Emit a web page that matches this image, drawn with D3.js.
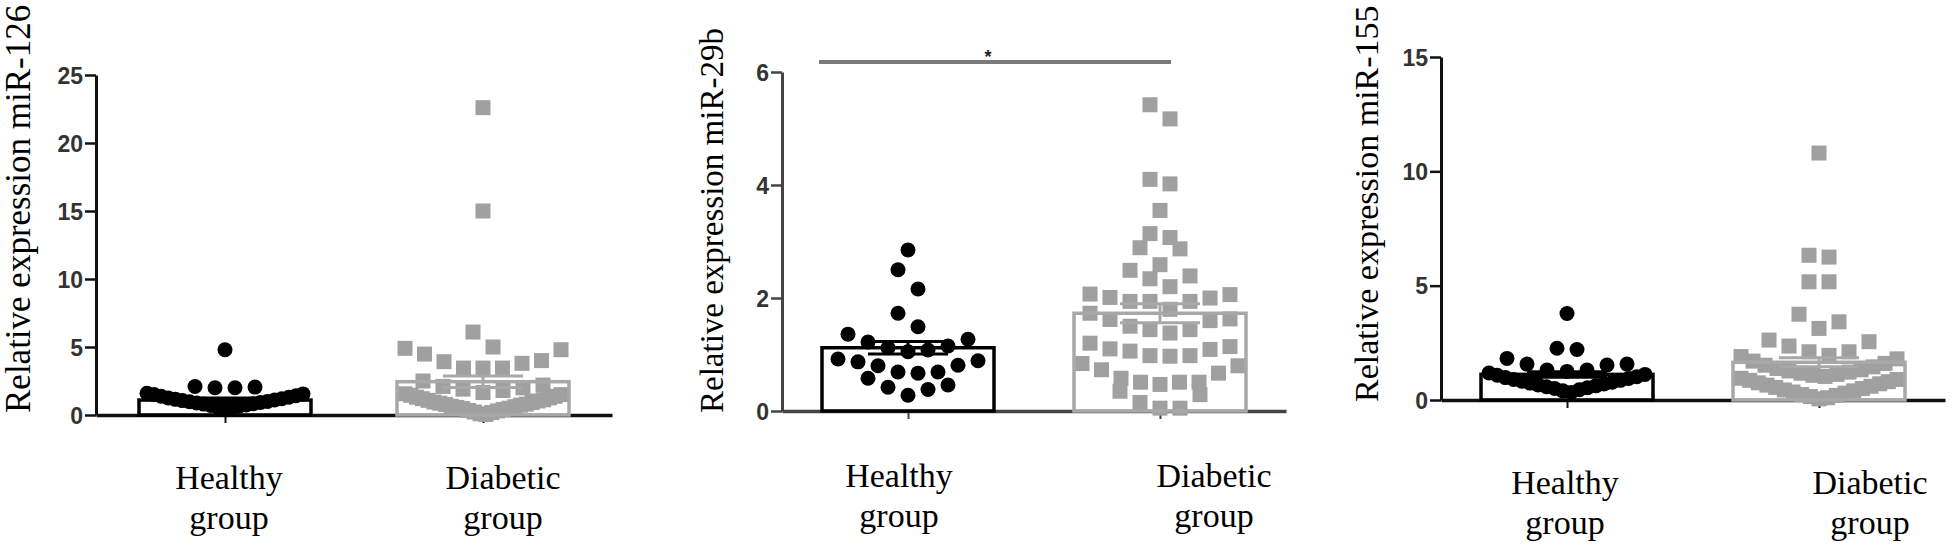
<!DOCTYPE html>
<html><head><meta charset="utf-8">
<script src="https://cdn.jsdelivr.net/npm/d3@7"></script>
<style>body{margin:0;background:#fff}</style>
</head><body>
<svg id="chart" width="1960" height="545"></svg>
<script>
// ---------------- DATA ----------------
const categories = ["Healthy group", "Diabetic group"];
const categoryLines = [["Healthy", "group"], ["Diabetic", "group"]];
const yTitles = ["Relative expression miR-126", "Relative expression miR-29b", "Relative expression miR-155"];

const ticks126 = [0, 5, 10, 15, 20, 25];
const ticks29b = [0, 2, 4, 6];
const ticks155 = [0, 5, 10, 15];

const healthy126 = [4.8, 2.1, 2.05, 2.0, 2.0, 1.6, 1.55, 1.5, 1.42, 1.38, 1.3, 1.25, 1.2, 1.15, 1.1, 1.06, 1.0, 0.97, 0.92, 0.88, 0.83, 0.8, 0.74, 0.7, 0.64, 0.58, 0.52, 0.45];
const diabetic126 = [22.6, 15.0, 6.1, 5.0, 4.9, 4.8, 4.48, 4.0, 3.92, 3.8, 3.45, 3.45, 3.45, 2.5, 2.2, 2.1, 2.0, 1.9, 1.8, 1.65,
  1.56, 1.5, 1.45, 1.38, 1.31, 1.26, 1.2, 1.12, 1.08, 1.03, 0.95, 0.92, 0.87, 0.8, 0.78, 0.72, 0.64, 0.61, 0.56, 0.5, 0.47, 0.41, 0.33, 0.3, 0.22, 0.18, 0.09, 0.04];

const healthy29b = [2.85, 2.50, 2.16, 1.73, 1.49, 1.36, 1.27, 1.22, 1.15, 1.12, 1.08, 1.05, 0.92, 0.89, 0.87, 0.81, 0.80, 0.69, 0.69, 0.67, 0.58, 0.46, 0.42, 0.38, 0.28];
const diabetic29b = [5.42, 5.17, 4.10, 4.02, 3.55, 3.14, 3.07, 2.89, 2.87, 2.59, 2.49, 2.39, 2.34, 2.20, 2.07, 2.06, 2.01, 2.00, 1.94, 1.94, 1.94, 1.80,
  1.73, 1.63, 1.62, 1.60, 1.50, 1.44, 1.44, 1.38, 1.20, 1.14, 1.10, 1.09, 1.06, 0.98, 0.98, 0.97, 0.84, 0.80, 0.73, 0.67, 0.58, 0.51, 0.51, 0.51, 0.47, 0.35, 0.29, 0.15, 0.05, 0.05];

const healthy155 = [3.78, 2.26, 2.21, 1.82, 1.57, 1.57, 1.53, 1.31, 1.31, 1.25, 1.18, 1.12, 1.08, 1.02, 0.98, 0.94, 0.9, 0.86, 0.82, 0.78, 0.74, 0.7, 0.66, 0.62, 0.58, 0.54, 0.5, 0.45, 0.4, 0.33];
const diabetic155 = [10.8, 6.33, 6.25, 5.17, 5.17, 3.75, 3.42, 3.13, 2.62, 2.55, 2.36, 2.11, 2.11, 1.95,
  1.9, 1.8, 1.7, 1.6, 1.52, 1.45, 1.38, 1.32, 1.27, 1.22, 1.17, 1.12, 1.08, 1.03,
  0.95, 0.9, 0.86, 0.8, 0.75, 0.71, 0.65, 0.6, 0.55, 0.5, 0.44, 0.4, 0.35, 0.3, 0.24, 0.2, 0.15, 0.1, 0.05];

const mean126 = [1.1, 2.45], sem126 = [0.15, 0.42];
const mean29b = [1.12, 1.73], sem29b = [0.11, 0.17];
const mean155 = [1.12, 1.65], sem155 = [0.12, 0.2];
const sigLabel29b = "*";

// ---------------- LAYOUT ----------------
const panels = [
  {title: yTitles[0], ticks: ticks126, series: [healthy126, diabetic126], means: mean126, sems: sem126,
   axisX: 96, xEnd: 612, y0: 415, yTop: 75, titleX: 30, titleY: 413, titleSize: 35, labelDx: [4, 20], labelY: 489, axisColor: "#111"},
  {title: yTitles[1], ticks: ticks29b, series: [healthy29b, diabetic29b], means: mean29b, sems: sem29b,
   axisX: 782, xEnd: 1286, y0: 411, yTop: 72, titleX: 723, titleY: 413, titleSize: 33, labelDx: [-9, 54], labelY: 487, axisColor: "#444",
   sig: {label: sigLabel29b, y: 62, dl: -89, dr: 11}},
  {title: yTitles[2], ticks: ticks155, series: [healthy155, diabetic155], means: mean155, sems: sem155,
   axisX: 1441, xEnd: 1945, y0: 400, yTop: 57, titleX: 1378, titleY: 402, titleSize: 34, labelDx: [-2, 51], labelY: 494, axisColor: "#111"}
];
const colors = ["#000000", "#a0a0a0"];
const barStroke = ["#000000", "#a8a8a8"];
const barHalf = 86, markerR = 7.5, rowPx = 21, spacing = 20, maxHalf = 78, capHalf = 40;

const svg = d3.select("#chart");

function swarm(values, y) {
  const s = values.slice().sort((a, b) => a - b);
  const rows = []; let k = 0;
  while (k < s.length) {
    const start = s[k]; const row = [];
    while (k < s.length && (y(start) - y(s[k])) < rowPx) { row.push(s[k]); k++; }
    rows.push(row);
  }
  const out = [];
  rows.forEach(row => {
    const n = row.length;
    const sp = n > 1 ? Math.min(spacing, 2 * maxHalf / (n - 1)) : 0;
    row.forEach((v, j) => {
      let off;
      if (n % 2 === 1) off = j === 0 ? 0 : (j % 2 === 1 ? 1 : -1) * Math.ceil(j / 2) * sp;
      else off = (j % 2 === 0 ? 1 : -1) * (Math.floor(j / 2) + 0.5) * sp;
      out.push({v, dx: off});
    });
  });
  return out;
}

panels.forEach(p => {
  const g = svg.append("g");
  const x = d3.scalePoint().domain(categories).range([p.axisX, p.xEnd]).padding(0.5);
  const y = d3.scaleLinear().domain([0, d3.max(p.ticks)]).range([p.y0, p.yTop]);

  // bar fills
  g.selectAll("rect.fill").data(categories).join("rect")
    .attr("x", d => x(d) - barHalf).attr("width", barHalf * 2)
    .attr("y", (d, i) => y(p.means[i])).attr("height", (d, i) => y(0) - y(p.means[i]))
    .attr("fill", "#fff");

  // axes
  const ya = g.append("g").attr("transform", `translate(${p.axisX},0)`)
    .call(d3.axisLeft(y).tickValues(p.ticks).tickSize(11).tickSizeOuter(0).tickPadding(2).tickFormat(d3.format("d")));
  ya.select(".domain").attr("stroke", p.axisColor).attr("stroke-width", 3);
  ya.selectAll(".tick line").attr("stroke", p.axisColor).attr("stroke-width", 2.5);
  ya.selectAll(".tick text").attr("font-family", "Liberation Sans, Arial, sans-serif").attr("font-weight", "bold")
    .attr("font-size", 23).attr("fill", "#333").attr("dy", "0.36em");

  const xa = g.append("g").attr("transform", `translate(0,${p.y0})`)
    .call(d3.axisBottom(x).tickSize(8).tickSizeOuter(0).tickFormat(""));
  xa.select(".domain").attr("stroke", p.axisColor).attr("stroke-width", 3.5);
  xa.selectAll(".tick line").attr("stroke", p.axisColor).attr("stroke-width", 2);

  // points
  p.series.forEach((vals, si) => {
    const pts = swarm(vals, y);
    if (si === 0) {
      g.selectAll(null).data(pts).join("circle")
        .attr("cx", d => x(categories[si]) + d.dx).attr("cy", d => y(d.v))
        .attr("r", markerR).attr("fill", colors[si]);
    } else {
      g.selectAll(null).data(pts).join("rect")
        .attr("x", d => x(categories[si]) + d.dx - markerR).attr("y", d => y(d.v) - markerR)
        .attr("width", markerR * 2).attr("height", markerR * 2).attr("fill", colors[si]);
    }
  });

  // bar outlines
  g.selectAll("rect.outline").data(categories).join("rect")
    .attr("x", d => x(d) - barHalf).attr("width", barHalf * 2)
    .attr("y", (d, i) => y(p.means[i])).attr("height", (d, i) => y(0) - y(p.means[i]))
    .attr("fill", "none").attr("stroke", (d, i) => barStroke[i]).attr("stroke-width", 3.5);

  // error bars (mean ± SEM)
  categories.forEach((c, i) => {
    const cx = x(c), hi = y(p.means[i] + p.sems[i]), lo = y(p.means[i] - p.sems[i]);
    const eg = g.append("g").attr("stroke", barStroke[i]).attr("stroke-width", 3);
    eg.append("line").attr("x1", cx).attr("x2", cx).attr("y1", hi).attr("y2", lo);
    eg.append("line").attr("x1", cx - capHalf).attr("x2", cx + capHalf).attr("y1", hi).attr("y2", hi);
    eg.append("line").attr("x1", cx - capHalf).attr("x2", cx + capHalf).attr("y1", lo).attr("y2", lo);
  });

  // y title
  g.append("text").attr("transform", `translate(${p.titleX},${p.titleY}) rotate(-90)`)
    .attr("font-family", "Liberation Serif, Times New Roman, serif").attr("font-size", p.titleSize)
    .attr("fill", "#000").text(p.title);

  // category labels
  categoryLines.forEach((lines, i) => {
    const t = g.append("text").attr("text-anchor", "middle")
      .attr("font-family", "Liberation Serif, Times New Roman, serif").attr("font-size", 34).attr("fill", "#000");
    lines.forEach((ln, k) => t.append("tspan").attr("x", x(categories[i]) + p.labelDx[i])
      .attr("y", p.labelY + k * 40).text(ln));
  });

  // significance bar
  if (p.sig) {
    const x1 = x(categories[0]) + p.sig.dl, x2 = x(categories[1]) + p.sig.dr;
    g.append("line").attr("x1", x1).attr("x2", x2).attr("y1", p.sig.y).attr("y2", p.sig.y)
      .attr("stroke", "#7a7a7a").attr("stroke-width", 4);
    g.append("text").attr("x", (x1 + x2) / 2 - 7).attr("y", p.sig.y + 1).attr("text-anchor", "middle")
      .attr("font-family", "Liberation Sans, Arial, sans-serif").attr("font-weight", "bold").attr("font-size", 18)
      .attr("fill", "#222").text(p.sig.label);
  }
});
</script>
</body></html>
